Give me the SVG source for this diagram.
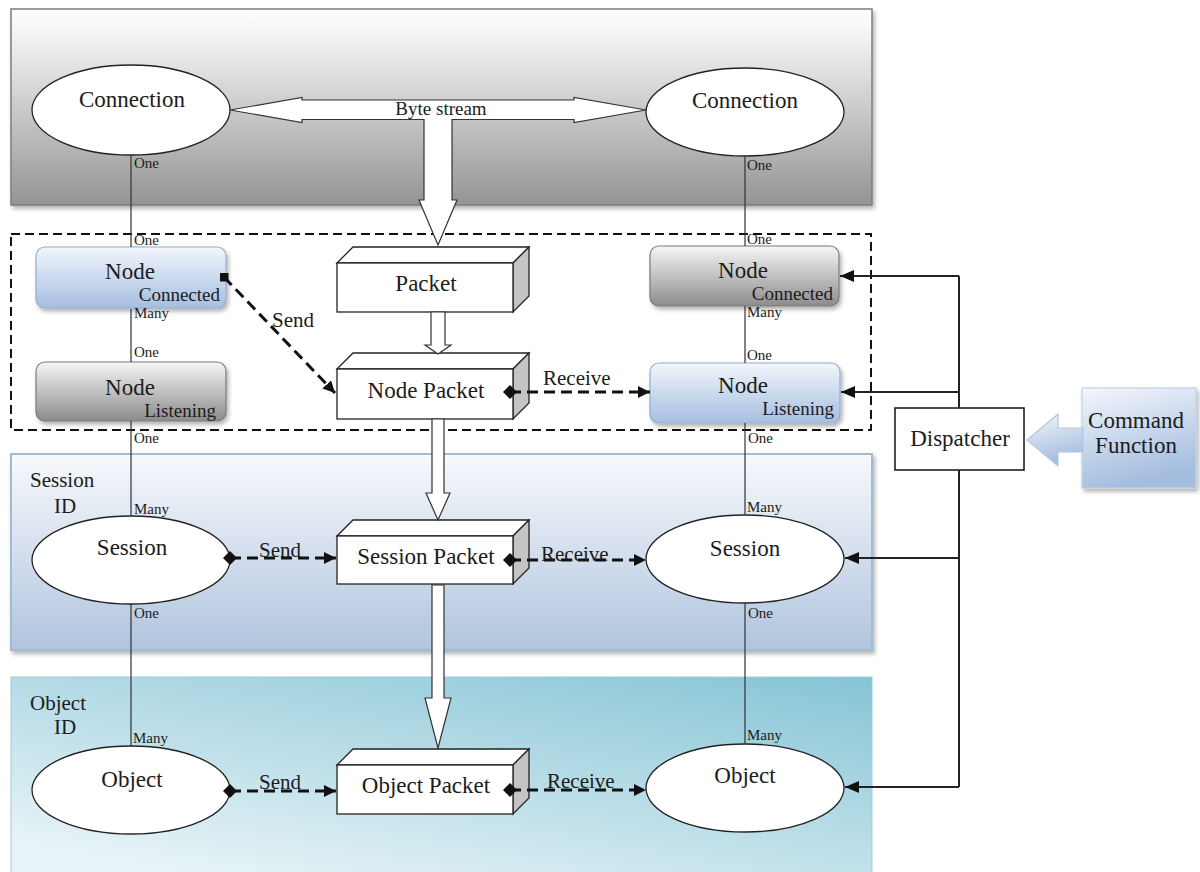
<svg xmlns="http://www.w3.org/2000/svg" width="1200" height="872" viewBox="0 0 1200 872">
  <defs>
    <linearGradient id="gTop" x1="0" y1="0" x2="0" y2="1">
      <stop offset="0" stop-color="#ffffff"/>
      <stop offset="0.15" stop-color="#f2f2f2"/>
      <stop offset="1" stop-color="#949494"/>
    </linearGradient>
    <linearGradient id="gSession" x1="0" y1="0" x2="0" y2="1">
      <stop offset="0" stop-color="#f7f9fc"/>
      <stop offset="1" stop-color="#b1c5de"/>
    </linearGradient>
    <linearGradient id="gObject" x1="1" y1="0" x2="0.25" y2="1">
      <stop offset="0" stop-color="#86c4d5"/>
      <stop offset="1" stop-color="#e6f3f7"/>
    </linearGradient>
    <linearGradient id="gBlue" x1="0" y1="0" x2="0" y2="1">
      <stop offset="0" stop-color="#f2f6fc"/>
      <stop offset="1" stop-color="#a6bee0"/>
    </linearGradient>
    <linearGradient id="gGray" x1="0" y1="0" x2="0" y2="1">
      <stop offset="0" stop-color="#f6f6f6"/>
      <stop offset="1" stop-color="#8c8c8c"/>
    </linearGradient>
    <linearGradient id="gCmd" x1="0" y1="0" x2="0.3" y2="1">
      <stop offset="0" stop-color="#f4f7fc"/>
      <stop offset="1" stop-color="#a4bddf"/>
    </linearGradient>
    <filter id="shadow" x="-10%" y="-10%" width="130%" height="140%">
      <feDropShadow dx="2" dy="3" stdDeviation="2" flood-color="#000" flood-opacity="0.3"/>
    </filter>
    <marker id="arrow" viewBox="0 0 12 12" refX="12" refY="6" markerWidth="12" markerHeight="12" markerUnits="userSpaceOnUse" orient="auto">
      <path d="M0,0 L12,6 L0,12 z" fill="#111"/>
    </marker>
    <marker id="arrowSolid" viewBox="0 0 14 12" refX="14" refY="6" markerWidth="14" markerHeight="12" markerUnits="userSpaceOnUse" orient="auto">
      <path d="M0,0 L14,6 L0,12 z" fill="#111"/>
    </marker>
    <marker id="diamond" viewBox="0 0 14 14" refX="7" refY="7" markerWidth="14" markerHeight="14" markerUnits="userSpaceOnUse" orient="auto">
      <path d="M0,7 L7,0 L14,7 L7,14 z" fill="#111"/>
    </marker>
    <marker id="square" viewBox="0 0 9 9" refX="4.5" refY="4.5" markerWidth="9" markerHeight="9" markerUnits="userSpaceOnUse">
      <rect x="0" y="0" width="9" height="9" fill="#111"/>
    </marker>
  </defs>
  <style>
    text { font-family: "Liberation Serif", "Times New Roman", serif; fill: #1c1c1c; }
    .big { font-size: 23px; }
    .mid { font-size: 21px; }
    .sub { font-size: 19px; }
    .card { font-size: 15px; }
    .mid-a { text-anchor: middle; }
    .end-a { text-anchor: end; }
    .ell { fill: #ffffff; stroke: #222; stroke-width: 1.3; }
    .rel { fill: none; stroke: #333; stroke-width: 1.2; }
    .flow { fill: none; stroke: #111; stroke-width: 3; stroke-dasharray: 11 6; }
    .disp { fill: none; stroke: #222; stroke-width: 2; }
    .front { fill: #ffffff; stroke: #222; stroke-width: 1.3; }
    .side { fill: #c4c4c4; stroke: #222; stroke-width: 1.3; }
    .hollow { fill: #ffffff; stroke: #333; stroke-width: 1.2; }
    .blue { fill: url(#gBlue); stroke: #93acd0; stroke-width: 1.2; }
    .gray { fill: url(#gGray); stroke: #7a7a7a; stroke-width: 1.2; }
  </style>

  <rect width="1200" height="872" fill="#ffffff"/>

  <!-- layer backgrounds -->
  <g id="layers">
    <rect x="11" y="9" width="861" height="196" fill="url(#gTop)" stroke="#7d7d7d" stroke-width="1.5" filter="url(#shadow)"/>
    <rect x="11" y="454" width="861" height="196" fill="url(#gSession)" stroke="#a3bad3" stroke-width="2" filter="url(#shadow)"/>
    <rect x="11" y="677" width="861" height="200" fill="url(#gObject)" stroke="#9ccbd8" stroke-width="1"/>
    <rect x="11" y="234" width="860" height="196" fill="none" stroke="#111" stroke-width="2" stroke-dasharray="9 5"/>
    <text class="mid" x="30" y="487">Session</text>
    <text class="mid" x="54" y="513">ID</text>
    <text class="mid" x="30" y="710">Object</text>
    <text class="mid" x="54" y="734">ID</text>
  </g>

  <g id="connection-left">
    <ellipse class="ell" cx="131" cy="110" rx="99" ry="45"/>
    <text class="big mid-a" x="132" y="107">Connection</text>
  </g>
  <g id="connection-right">
    <ellipse class="ell" cx="745" cy="112" rx="99" ry="44"/>
    <text class="big mid-a" x="745" y="108">Connection</text>
  </g>

  <g id="node-connected-left">
    <rect class="blue" x="36" y="247" width="190" height="61" rx="9" filter="url(#shadow)"/>
    <text class="big mid-a" x="130" y="279">Node</text>
    <text class="sub end-a" x="220" y="301">Connected</text>
  </g>
  <g id="node-listening-left">
    <rect class="gray" x="36" y="362" width="190" height="59" rx="9" filter="url(#shadow)"/>
    <text class="big mid-a" x="130" y="395">Node</text>
    <text class="sub end-a" x="216" y="417">Listening</text>
  </g>
  <g id="node-connected-right">
    <rect class="gray" x="650" y="246" width="189" height="60" rx="9" filter="url(#shadow)"/>
    <text class="big mid-a" x="743" y="278">Node</text>
    <text class="sub end-a" x="833" y="300">Connected</text>
  </g>
  <g id="node-listening-right">
    <rect class="blue" x="650" y="363" width="190" height="60" rx="9" filter="url(#shadow)"/>
    <text class="big mid-a" x="743" y="393">Node</text>
    <text class="sub end-a" x="834" y="415">Listening</text>
  </g>

  <g id="packet">
    <polygon class="front" points="337,263 353,247 529,247 513,263"/>
    <polygon class="side" points="513,263 529,247 529,296 513,312"/>
    <rect class="front" x="337" y="263" width="176" height="49"/>
    <text class="big mid-a" x="426" y="291">Packet</text>
  </g>
  <g id="node-packet">
    <polygon class="front" points="337,369 353,353 529,353 513,369"/>
    <polygon class="side" points="513,369 529,353 529,403 513,419"/>
    <rect class="front" x="337" y="369" width="176" height="50"/>
    <text class="big mid-a" x="426" y="398">Node Packet</text>
  </g>

  <g id="session-left">
    <ellipse class="ell" cx="131" cy="560" rx="99" ry="44"/>
    <text class="big mid-a" x="132" y="555">Session</text>
  </g>
  <g id="session-packet">
    <polygon class="front" points="337,536 353,520 529,520 513,536"/>
    <polygon class="side" points="513,536 529,520 529,568 513,584"/>
    <rect class="front" x="337" y="536" width="176" height="48"/>
    <text class="big mid-a" x="426" y="564">Session Packet</text>
  </g>
  <g id="session-right">
    <ellipse class="ell" cx="745" cy="559" rx="99" ry="44"/>
    <text class="big mid-a" x="745" y="556">Session</text>
  </g>

  <g id="object-left">
    <ellipse class="ell" cx="131" cy="790" rx="99" ry="44"/>
    <text class="big mid-a" x="132" y="787">Object</text>
  </g>
  <g id="object-packet">
    <polygon class="front" points="337,765 353,749 529,749 513,765"/>
    <polygon class="side" points="513,765 529,749 529,798 513,814"/>
    <rect class="front" x="337" y="765" width="176" height="49"/>
    <text class="big mid-a" x="426" y="793">Object Packet</text>
  </g>
  <g id="object-right">
    <ellipse class="ell" cx="745" cy="788" rx="99" ry="44"/>
    <text class="big mid-a" x="745" y="783">Object</text>
  </g>

  <g id="dispatcher">
    <rect x="895" y="408" width="129" height="62" fill="#ffffff" stroke="#111" stroke-width="1.5"/>
    <text class="big mid-a" x="960" y="446">Dispatcher</text>
  </g>

  <g id="command-function">
    <rect x="1082" y="388" width="114" height="100" fill="url(#gCmd)" stroke="#c2d1e5" stroke-width="1.2" filter="url(#shadow)"/>
    <text class="big mid-a" x="1136" y="428">Command</text>
    <text class="big mid-a" x="1136" y="453">Function</text>
  </g>

  <g id="connectors">
    <!-- byte stream between the two connections, branching down to the packet -->
    <polygon class="hollow" points="230,110 302,97.5 302,100 574,100 574,97.5 646,110 574,122.5 574,119.5 452,119.5 452,200 457,200 438,245 419,200 424,200 424,119.5 302,119.5 302,122.5"/>
    <text class="sub mid-a" x="441" y="115">Byte stream</text>

    <!-- packet pipeline -->
    <polygon class="hollow" points="431,312 445,312 445,345 451,345 438,354 425,345 431,345"/>
    <polygon class="hollow" points="432,419 444,419 444,493 450,493 438,520 426,493 432,493"/>
    <polygon class="hollow" points="432,585 444,585 444,698 451,698 438,748 425,698 432,698"/>

    <!-- one / many relations, left column -->
    <path class="rel" d="M131,155 V247 M131,309 V362 M131,421 V516 M131,604 V746"/>
    <!-- one / many relations, right column -->
    <path class="rel" d="M745,156 V246 M745,306 V363 M745,423 V515 M745,603 V744"/>

    <!-- send / receive flows -->
    <path class="flow" d="M224,277 L335,393" marker-start="url(#square)" marker-end="url(#arrow)"/>
    <text class="mid" x="272" y="327">Send</text>
    <path class="flow" d="M510,392 L650,392" marker-start="url(#diamond)" marker-end="url(#arrow)"/>
    <text class="mid" x="543" y="385">Receive</text>

    <path class="flow" d="M230,558 L336,558" marker-start="url(#diamond)" marker-end="url(#arrow)"/>
    <text class="mid" x="259" y="557">Send</text>
    <path class="flow" d="M510,560 L646,560" marker-start="url(#diamond)" marker-end="url(#arrow)"/>
    <text class="mid" x="541" y="561">Receive</text>

    <path class="flow" d="M230,791 L336,791" marker-start="url(#diamond)" marker-end="url(#arrow)"/>
    <text class="mid" x="259" y="789">Send</text>
    <path class="flow" d="M510,790 L646,790" marker-start="url(#diamond)" marker-end="url(#arrow)"/>
    <text class="mid" x="547" y="788">Receive</text>

    <!-- dispatcher fan-out -->
    <path class="disp" d="M959,276 V408 M959,470 V787"/>
    <path class="disp" d="M959,276 H840" marker-end="url(#arrowSolid)"/>
    <path class="disp" d="M959,392 H841" marker-end="url(#arrowSolid)"/>
    <path class="disp" d="M959,558 H845" marker-end="url(#arrowSolid)"/>
    <path class="disp" d="M959,787 H845" marker-end="url(#arrowSolid)"/>

    <!-- command input -->
    <polygon points="1027,440 1058,414 1058,428 1083,428 1083,452 1058,452 1058,466" fill="url(#gCmd)" stroke="#b5c6dc" stroke-width="1.2"/>

    <!-- cardinality labels -->
    <text class="card" x="134" y="168">One</text>
    <text class="card" x="134" y="245">One</text>
    <text class="card" x="134" y="318">Many</text>
    <text class="card" x="134" y="357">One</text>
    <text class="card" x="134" y="443">One</text>
    <text class="card" x="134" y="514">Many</text>
    <text class="card" x="134" y="618">One</text>
    <text class="card" x="133" y="743">Many</text>
    <text class="card" x="747" y="170">One</text>
    <text class="card" x="747" y="244">One</text>
    <text class="card" x="747" y="317">Many</text>
    <text class="card" x="747" y="360">One</text>
    <text class="card" x="748" y="443">One</text>
    <text class="card" x="747" y="512">Many</text>
    <text class="card" x="748" y="618">One</text>
    <text class="card" x="747" y="740">Many</text>
  </g>
</svg>
